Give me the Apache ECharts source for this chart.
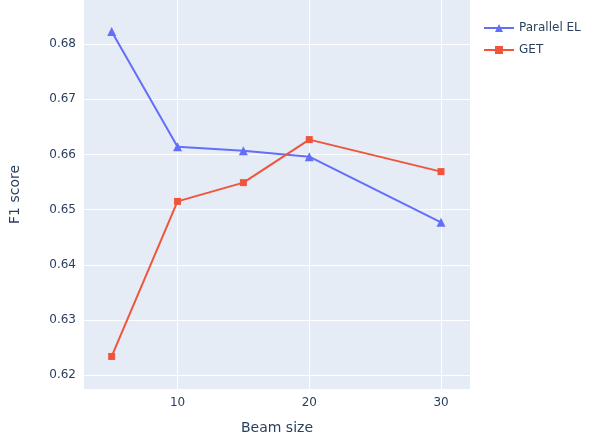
<!DOCTYPE html><html><head><meta charset="utf-8"><script src="https://cdn.jsdelivr.net/npm/echarts@6/dist/echarts.min.js"></script>
<style>body{margin:0}#c{width:604px;height:440px}</style></head><body><div id="c"></div><script>
const beamSizes=[5,10,15,20,30];
const parallelEL=[0.6823,0.6614,0.6607,0.6596,0.6477];
const getScores=[0.6234,0.6515,0.6549,0.6627,0.6569];
const xTicks=[10,20,30];
const yTicks=[0.62,0.63,0.64,0.65,0.66,0.67,0.68];
const font='"DejaVu Sans", sans-serif';
const c=echarts.init(document.getElementById('c'));
c.setOption({
 backgroundColor:'#fff',animation:false,
 grid:{left:82,right:134,top:0,bottom:48,show:true,backgroundColor:'#E5ECF6',borderWidth:0},
 legend:{left:478,top:17,orient:'vertical',itemGap:10,itemWidth:30,itemHeight:10,textStyle:{fontFamily:font,fontSize:12,color:'#2a3f5f'},data:['Parallel EL','GET']},
 xAxis:{type:'value',min:2.9,max:32.2,name:'Beam size',nameLocation:'middle',nameGap:32,nameTextStyle:{fontFamily:font,fontSize:14,color:'#2a3f5f'},
  axisLine:{show:false},axisTick:{show:false,customValues:xTicks},axisLabel:{customValues:xTicks,fontFamily:font,fontSize:12,color:'#2a3f5f'},
  splitLine:{show:true,lineStyle:{color:'#fff',width:1}}},
 yAxis:{type:'value',min:0.6175,max:0.688,name:'F1 score',nameLocation:'middle',nameGap:62,nameTextStyle:{fontFamily:font,fontSize:14,color:'#2a3f5f'},
  axisLine:{show:false},axisTick:{show:false,customValues:yTicks},axisLabel:{customValues:yTicks,fontFamily:font,fontSize:12,color:'#2a3f5f',formatter:v=>v.toFixed(2)},
  splitLine:{show:true,lineStyle:{color:'#fff',width:1}}},
 series:[
  {name:'Parallel EL',type:'line',data:beamSizes.map((x,i)=>[x,parallelEL[i]]),symbol:'triangle',symbolSize:9,color:'#636EFA',lineStyle:{width:2}},
  {name:'GET',type:'line',data:beamSizes.map((x,i)=>[x,getScores[i]]),symbol:'rect',symbolSize:7,color:'#EF553B',lineStyle:{width:2}}
 ]
});
</script></body></html>
